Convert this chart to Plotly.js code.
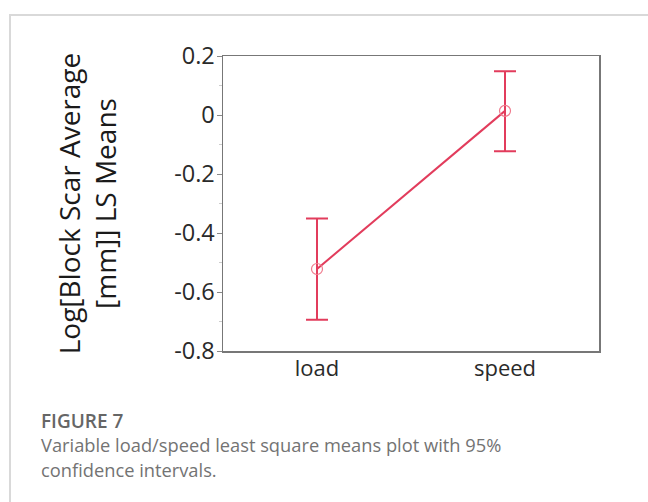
<!DOCTYPE html>
<html>
<head>
<meta charset="utf-8">
<script src="https://cdn.plot.ly/plotly-3.0.1.min.js"></script>
<style>
  html, body { margin: 0; padding: 0; background: #fff; }
  #wrap { position: relative; width: 648px; height: 502px; overflow: hidden; }
  #frame { position: absolute; left: 9px; top: 14px; width: 660px; height: 500px;
           border-top: 2px solid #d9d9d9; border-left: 2px solid #d9d9d9; box-sizing: border-box; }
  #chart { position: absolute; left: 0; top: 0; width: 648px; height: 502px; }
  .cap { position: absolute; left: 41px; font-family: "Open Sans", sans-serif; color: #737373; white-space: nowrap; }
  #fig { top: 408px; font-size: 19px; font-weight: 600; color: #666; }
  #desc { top: 432px; font-size: 18.3px; line-height: 25px; }
</style>
</head>
<body>
<div id="wrap">
  <div id="frame"></div>
  <div id="chart"></div>
  <div class="cap" id="fig">FIGURE 7</div>
  <div class="cap" id="desc">Variable load/speed least square means plot with 95%<br>confidence intervals.</div>
</div>
<script>
const categories = ['load', 'speed'];
const lsMeans = [-0.522, 0.014];
const upper95 = [-0.351, 0.148];
const lower95 = [-0.694, -0.123];
const yTickVals = [0.2, 0, -0.2, -0.4, -0.6, -0.8];
const yTickText = ['0.2', '0', '-0.2', '-0.4', '-0.6', '-0.8'];
const yTitle = 'Log[Block Scar Average<br>[mm]] LS Means';

const errPlus = upper95.map((u, i) => u - lsMeans[i]);
const errMinus = lsMeans.map((m, i) => m - lower95[i]);

const trace = {
  x: categories,
  y: lsMeans,
  type: 'scatter',
  mode: 'lines+markers',
  line: { color: '#e23c5c', width: 2 },
  marker: { symbol: 'circle-open', size: 11, color: '#ef7a8c', line: { width: 1.2 } },
  error_y: { type: 'data', symmetric: false, array: errPlus, arrayminus: errMinus,
             color: '#e23c5c', thickness: 2, width: 11 },
  showlegend: false,
  hoverinfo: 'x+y'
};

const layout = {
  width: 648, height: 502,
  margin: { l: 223, r: 49, t: 56, b: 151, pad: 0 },
  paper_bgcolor: 'rgba(0,0,0,0)',
  plot_bgcolor: '#fff',
  font: { family: '"Open Sans", sans-serif', color: '#333' },
  xaxis: {
    type: 'category', range: [-0.5, 1.5],
    showline: true, mirror: true, linecolor: '#777', linewidth: 1.5,
    showgrid: false, zeroline: false, ticks: '',
    tickfont: { size: 22, color: '#2a2a2a' }, ticklabelstandoff: -3
  },
  yaxis: {
    range: [-0.8, 0.2],
    tickmode: 'array', tickvals: yTickVals, ticktext: yTickText,
    showline: true, mirror: true, linecolor: '#777', linewidth: 1.5,
    showgrid: false, zeroline: false,
    ticks: 'outside', ticklen: 5, tickcolor: '#888', tickwidth: 1,
    minor: { dtick: 0.1, ticks: 'outside', ticklen: 3, tickcolor: '#ccc', tickwidth: 1 },
    tickfont: { size: 23.5, color: '#2a2a2a' }, ticklabelstandoff: -3,
    title: { text: yTitle, font: { size: 28, color: '#1a1a1a' }, standoff: 49 }
  }
};

Plotly.newPlot('chart', [trace], layout, { displayModeBar: false, staticPlot: true });
</script>
</body>
</html>
